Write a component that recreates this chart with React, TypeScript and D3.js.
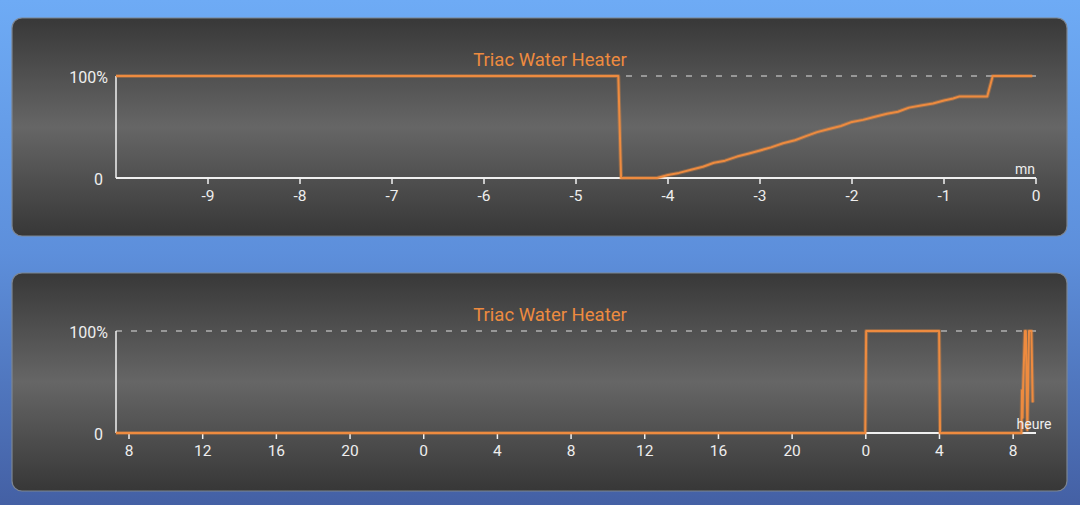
import React from "react";
import * as d3 from "d3";

// ---- Data ----
// Top chart: last 10 minutes (x in minutes, y in %)
const minuteTimes = [-10, -4.54, -4.51, -4.12, -4.0, -3.88, -3.75, -3.62, -3.5, -3.38, -3.25, -3.12, -3.0, -2.88, -2.75, -2.62, -2.5, -2.38, -2.25, -2.12, -2.0, -1.88, -1.75, -1.62, -1.5, -1.38, -1.25, -1.12, -1.0, -0.9, -0.83, -0.53, -0.47, -0.04];
const minuteValues = [100, 100, 0, 0, 3, 5, 8, 11, 15, 17, 21, 24, 27, 30, 34, 37, 41, 45, 48, 51, 55, 57, 60, 63, 65, 69, 71, 73, 76, 78, 80, 80, 100, 100];
const minuteTicks = [-9, -8, -7, -6, -5, -4, -3, -2, -1, 0];

// Bottom chart: ~50 hours (x in cumulative hours, y in %)
const hourTimes = [7.29, 47.97, 48.02, 51.98, 52.03, 56.45, 56.48, 56.51, 56.54, 56.64, 56.69, 56.77, 56.86, 56.99, 57.06];
const hourValues = [0, 0, 100, 100, 0, 0, 42, 15, 45, 100, 100, 3, 100, 100, 30];
const hourTicks = [8, 12, 16, 20, 24, 28, 32, 36, 40, 44, 48, 52, 56];
const hourTickLabels = ["8", "12", "16", "20", "0", "4", "8", "12", "16", "20", "0", "4", "8"];

const yTicks = [0, 100];
const yTickLabels = ["0", "100%"];

const title = "Triac Water Heater";

const ORANGE = "#ee8b3f";
const FONT = "Roboto, 'Noto Sans', sans-serif";

interface PanelProps {
  top: number;
  times: number[];
  values: number[];
  xDomain: [number, number];
  ticks: number[];
  tickLabels: string[];
  unit: string;
  unitX: number;
  unitAnchor: "start" | "middle" | "end";
  id: string;
}

function Panel(p: PanelProps) {
  const panelX = 12, panelW = 1055, panelH = 218;
  const x = d3.scaleLinear().domain(p.xDomain).range([116, 1036]);
  const y = d3.scaleLinear().domain([0, 100]).range([p.top + 160, p.top + 58]);
  const pts = p.times.map((t, i) => [t, p.values[i]] as [number, number]);
  const line = d3.line<[number, number]>().x(d => x(d[0])).y(d => y(d[1]));
  const path = line(pts) || "";
  const y0 = y(0), y100 = y(100);
  return (
    <g>
      <defs>
        <linearGradient id={`panelGrad${p.id}`} x1="0" y1="0" x2="0" y2="1">
          <stop offset="0" stopColor="#383838" />
          <stop offset="0.5" stopColor="#666666" />
          <stop offset="1" stopColor="#373737" />
        </linearGradient>
      </defs>
      <rect x={panelX} y={p.top} width={panelW} height={panelH} rx={10} ry={10}
        fill={`url(#panelGrad${p.id})`} stroke="#7d8590" strokeWidth={1.2} />
      <text x={550} y={p.top + 48} textAnchor="middle" fill={ORANGE} fontFamily={FONT} fontSize={18.5}>{title}</text>
      {/* dashed 100% grid line */}
      <line x1={116} x2={1036} y1={y100} y2={y100} stroke="#b0b0b0" strokeWidth={1.5} strokeDasharray="6,9" />
      {/* axes */}
      <line x1={116} x2={116} y1={y100} y2={y0} stroke="#f0f0f0" strokeWidth={1.5} />
      <line x1={116} x2={1036} y1={y0} y2={y0} stroke="#f0f0f0" strokeWidth={2} />
      {p.ticks.map((t, i) => (
        <g key={i}>
          <line x1={x(t)} x2={x(t)} y1={y0} y2={y0 + 6} stroke="#f0f0f0" strokeWidth={1.5} />
          <text x={x(t)} y={y0 + 23} textAnchor="middle" fill="#eeeeee" fontFamily={FONT} fontSize={15.5}>{p.tickLabels[i]}</text>
        </g>
      ))}
      {yTicks.map((v, i) => (
        <text key={i} x={v === 0 ? 103 : 108} y={y(v) + 7} textAnchor="end" fill="#eeeeee" fontFamily={FONT} fontSize={16}>{yTickLabels[i]}</text>
      ))}
      {/* data line */}
      <path d={path} fill="none" stroke={ORANGE} strokeOpacity={0.35} strokeWidth={4} strokeLinejoin="round" />
      <path d={path} fill="none" stroke={ORANGE} strokeWidth={2} strokeLinejoin="round" />
      <text x={p.unitX} y={y0 - 4} textAnchor={p.unitAnchor} fill="#eeeeee" fontFamily={FONT} fontSize={14}>{p.unit}</text>
    </g>
  );
}

export default function App() {
  return (
    <div style={{ position: "fixed", left: 0, top: 0, width: 1080, height: 505 }}>
      <svg width={1080} height={505} style={{ display: "block" }}>
        <defs>
          <linearGradient id="bg" x1="0" y1="0" x2="0" y2="1">
            <stop offset="0" stopColor="#6eabf5" />
            <stop offset="0.5" stopColor="#5d8fdb" />
            <stop offset="1" stopColor="#4460a4" />
          </linearGradient>
        </defs>
        <rect x={0} y={0} width={1080} height={505} fill="url(#bg)" />
        <Panel id="a" top={18} times={minuteTimes} values={minuteValues} xDomain={[-10, 0]}
          ticks={minuteTicks} tickLabels={minuteTicks.map(String)} unit="mn" unitX={1035} unitAnchor="end" />
        <Panel id="b" top={273} times={hourTimes} values={hourValues} xDomain={[7.294, 57.24]}
          ticks={hourTicks} tickLabels={hourTickLabels} unit="heure" unitX={1034} unitAnchor="middle" />
      </svg>
    </div>
  );
}
